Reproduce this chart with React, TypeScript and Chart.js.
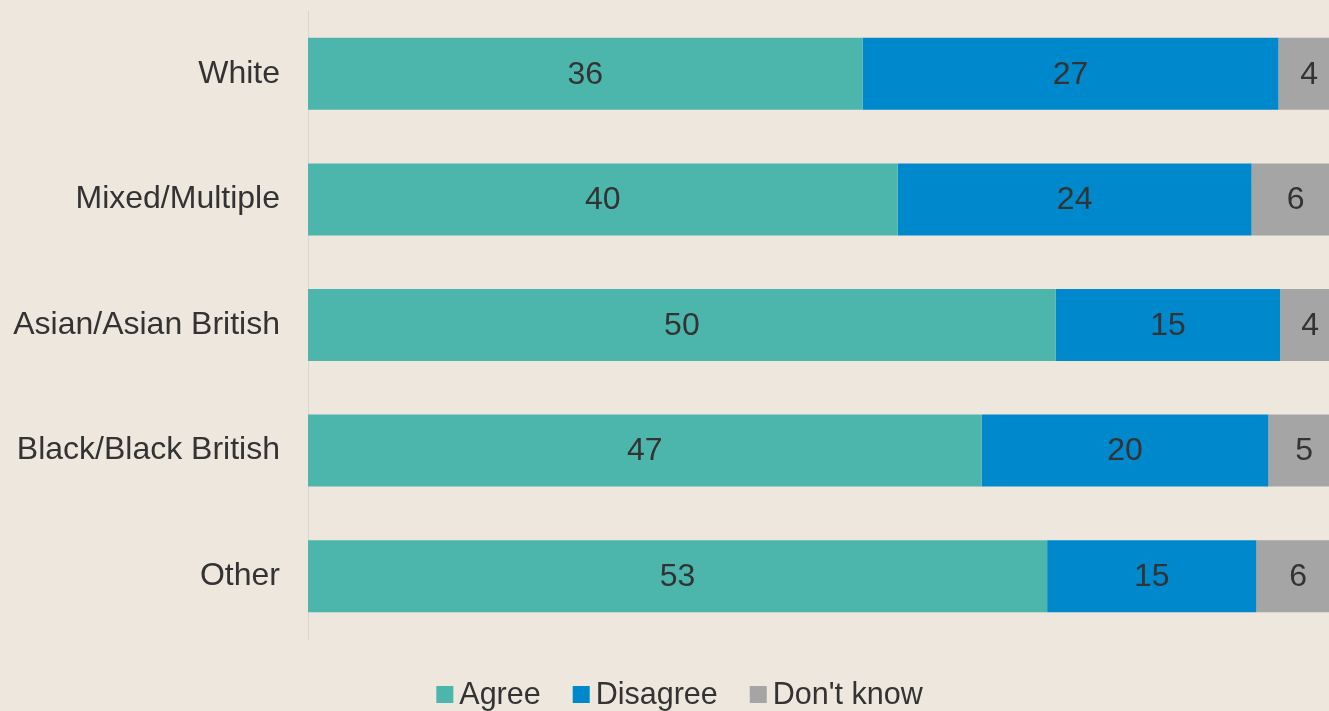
import React, { useEffect, useRef } from "react";
import { Chart, registerables } from "chart.js";

Chart.register(...registerables);

const categories = ["White", "Mixed/Multiple", "Asian/Asian British", "Black/Black British", "Other"];
const seriesNames = ["Agree", "Disagree", "Don't know"];
const agree = [36, 40, 50, 47, 53];
const disagree = [27, 24, 15, 20, 15];
const dontKnow = [4, 6, 4, 5, 6];
const colors = ["#4DB6AC", "#0088CC", "#A5A5A5"];

const BG = "#EEE7DE";
const TEXT = "#333333";
const FONT = "'Liberation Sans', Arial, Helvetica, sans-serif";

export default function App() {
  const canvasRef = useRef<HTMLCanvasElement | null>(null);

  useEffect(() => {
    if (!canvasRef.current) return;
    const raw = [agree, disagree, dontKnow];
    const totals = categories.map((_, i) => raw.reduce((s, arr) => s + arr[i], 0));
    const datasets = raw.map((arr, k) => ({
      label: seriesNames[k],
      data: arr.map((v, i) => (v / totals[i]) * 100),
      rawValues: arr,
      backgroundColor: colors[k],
      borderWidth: 0,
      barPercentage: 0.573,
      categoryPercentage: 1,
    }));

    const labelsPlugin = {
      id: "segLabels",
      afterDatasetsDraw(chart: any) {
        const ctx = chart.ctx;
        ctx.save();
        ctx.font = `32px ${FONT}`;
        ctx.fillStyle = TEXT;
        ctx.textAlign = "center";
        ctx.textBaseline = "middle";
        chart.data.datasets.forEach((ds: any, di: number) => {
          const meta = chart.getDatasetMeta(di);
          meta.data.forEach((el: any, i: number) => {
            const p = el.getProps(["x", "y", "base"], true);
            ctx.fillText(String(ds.rawValues[i]), (p.x + p.base) / 2, p.y + 1);
          });
        });
        ctx.restore();
      },
    };

    const legendPlugin = {
      id: "customLegend",
      afterDraw(chart: any) {
        const ctx = chart.ctx;
        ctx.save();
        ctx.font = `30.5px ${FONT}`;
        ctx.textBaseline = "middle";
        ctx.textAlign = "left";
        const box = 17;
        const gap = 6;
        const itemGap = 32;
        const items = chart.data.datasets.map((ds: any) => ({
          text: ds.label,
          color: ds.backgroundColor,
          w: ctx.measureText(ds.label).width,
        }));
        const total =
          items.reduce((s: number, it: any) => s + box + gap + it.w, 0) + itemGap * (items.length - 1);
        let x = chart.width / 2 - total / 2;
        const y = 694.5;
        items.forEach((it: any) => {
          ctx.fillStyle = it.color;
          ctx.fillRect(x, y - box / 2, box, box);
          ctx.fillStyle = TEXT;
          ctx.fillText(it.text, x + box + gap, y + 1);
          x += box + gap + it.w + itemGap;
        });
        ctx.restore();
      },
    };

    const chart = new Chart(canvasRef.current, {
      type: "bar",
      data: { labels: categories, datasets: datasets as any },
      options: {
        indexAxis: "y",
        animation: false,
        responsive: false,
        maintainAspectRatio: false,
        layout: { padding: { top: 11, bottom: 72, left: 0, right: 19 } },
        plugins: {
          legend: { display: false },
          tooltip: { enabled: false },
          title: { display: false },
        },
        scales: {
          x: {
            stacked: true,
            display: false,
            min: 0,
            max: 100,
          },
          y: {
            stacked: true,
            grid: { display: false, drawTicks: false },
            border: { display: true, color: "#D9D6D0", width: 1 },
            ticks: {
              color: TEXT,
              padding: 28,
              font: { family: FONT, size: 32 },
            },
            afterFit(scale: any) {
              scale.width = 308;
              scale.paddingTop = 0;
              scale.paddingBottom = 0;
            },
          },
        },
      },
      plugins: [labelsPlugin, legendPlugin],
    });
    return () => chart.destroy();
  }, []);

  return (
    <div
      style={{
        position: "fixed",
        left: 0,
        top: 0,
        width: 1329,
        height: 711,
        overflow: "hidden",
        background: BG,
      }}
    >
      <canvas ref={canvasRef} width={1359} height={711} style={{ display: "block", width: 1359, height: 711 }} />
    </div>
  );
}
